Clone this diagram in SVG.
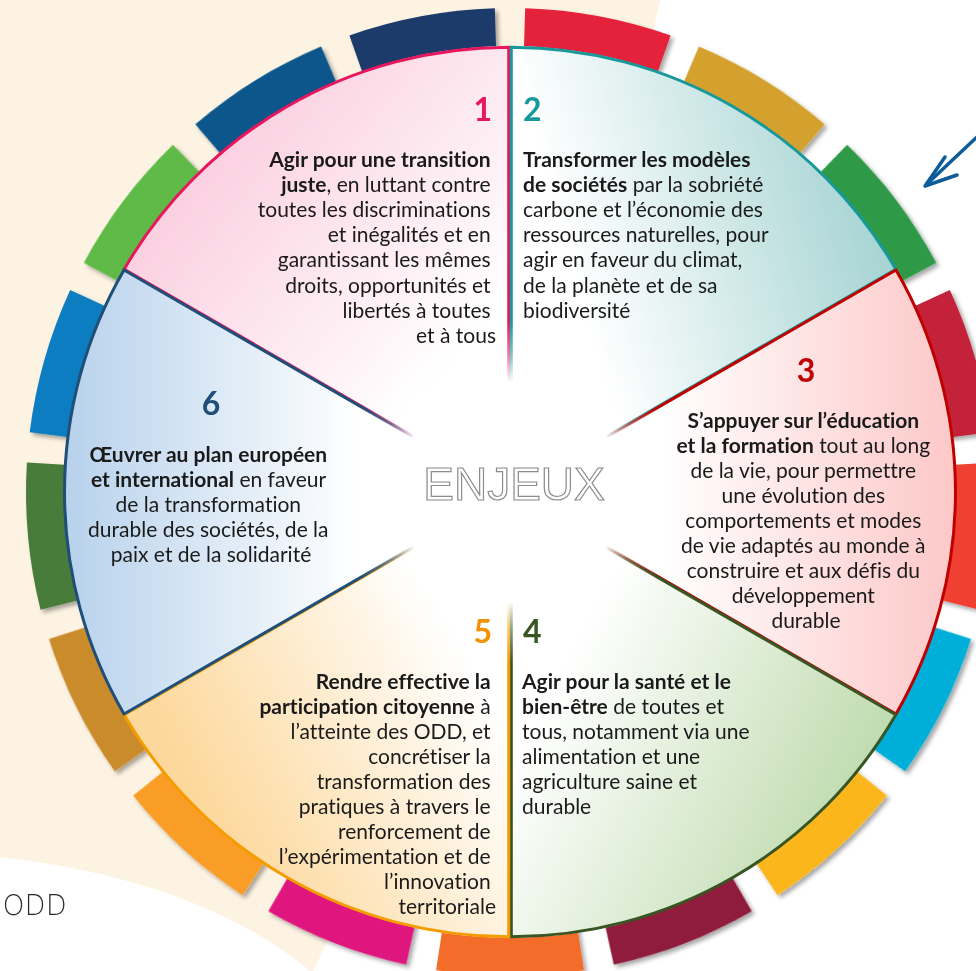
<svg xmlns="http://www.w3.org/2000/svg" width="976" height="971" viewBox="0 0 976 971">
<style>
.t{font-family:Lato,"Open Sans","Liberation Sans",sans-serif;font-size:21px;fill:#1a1a1a;font-variant-ligatures:none;font-feature-settings:"liga" 0,"clig" 0}
.b{font-weight:bold}
.n{font-family:Lato,"Liberation Sans",sans-serif;font-weight:bold;font-size:32px}
.e{text-anchor:end}
.m{text-anchor:middle}
.sl{stroke-width:3;stroke-linejoin:miter}
</style>
<defs>
<filter id="sh" x="-20%" y="-20%" width="140%" height="140%"><feDropShadow dx="3" dy="3" stdDeviation="2" flood-color="#000" flood-opacity="0.35"/></filter>
<path id="seg" d="M436.05,13.68 A484 484 0 0 1 583.95,13.68 L576.92,59.14 A438 438 0 0 0 443.08,59.14 Z"/>
<radialGradient id="rg" gradientUnits="userSpaceOnUse" cx="510" cy="492" r="170">
<stop offset="0" stop-color="#000" stop-opacity="1"/>
<stop offset="0.64" stop-color="#000" stop-opacity="1"/>
<stop offset="0.8" stop-color="#000" stop-opacity="0.45"/>
<stop offset="1" stop-color="#000" stop-opacity="0"/>
</radialGradient>
<mask id="fade" maskUnits="userSpaceOnUse" x="0" y="0" width="976" height="971">
<rect width="976" height="971" fill="#fff"/>
<circle cx="510" cy="492" r="170" fill="url(#rg)"/>
</mask>
<linearGradient id="g1" gradientUnits="userSpaceOnUse" x1="200" y1="170" x2="450" y2="370"><stop offset="0" stop-color="#fbd0e0"/><stop offset="1" stop-color="#fff"/></linearGradient>
<linearGradient id="g2" gradientUnits="userSpaceOnUse" x1="880" y1="260" x2="590" y2="340"><stop offset="0" stop-color="#a8d5d4"/><stop offset="1" stop-color="#fff"/></linearGradient>
<linearGradient id="g3" gradientUnits="userSpaceOnUse" x1="950" y1="0" x2="660" y2="0"><stop offset="0" stop-color="#fdc8c8"/><stop offset="1" stop-color="#fff"/></linearGradient>
<linearGradient id="g4" gradientUnits="userSpaceOnUse" x1="880" y1="730" x2="600" y2="590"><stop offset="0" stop-color="#c1dcb1"/><stop offset="1" stop-color="#fff"/></linearGradient>
<linearGradient id="g5" gradientUnits="userSpaceOnUse" x1="170" y1="740" x2="440" y2="600"><stop offset="0" stop-color="#fdd89c"/><stop offset="1" stop-color="#fff"/></linearGradient>
<linearGradient id="g6" gradientUnits="userSpaceOnUse" x1="70" y1="0" x2="360" y2="0"><stop offset="0" stop-color="#b8d2ec"/><stop offset="1" stop-color="#fff"/></linearGradient>
</defs>

<rect width="976" height="971" fill="#fff"/>
<path d="M0,0 H660 C600,300 450,700 313,971 L310,971 Q200,880 0,857 Z" fill="#fdf3e3"/>

<g id="odd-ring" filter="url(#sh)">
<use href="#seg" fill="#e5243b" transform="rotate(10.588 510 492)"/>
<use href="#seg" fill="#d4a12e" transform="rotate(31.765 510 492)"/>
<use href="#seg" fill="#2d9a47" transform="rotate(52.941 510 492)"/>
<use href="#seg" fill="#c4203a" transform="rotate(74.118 510 492)"/>
<use href="#seg" fill="#ef4130" transform="rotate(95.294 510 492)"/>
<use href="#seg" fill="#02afd9" transform="rotate(116.471 510 492)"/>
<use href="#seg" fill="#fbb61a" transform="rotate(137.647 510 492)"/>
<use href="#seg" fill="#8f1a3c" transform="rotate(158.824 510 492)"/>
<use href="#seg" fill="#f36c2b" transform="rotate(180 510 492)"/>
<use href="#seg" fill="#e0197f" transform="rotate(201.176 510 492)"/>
<use href="#seg" fill="#f99d27" transform="rotate(222.353 510 492)"/>
<use href="#seg" fill="#ca8b2b" transform="rotate(243.529 510 492)"/>
<use href="#seg" fill="#467c3b" transform="rotate(264.706 510 492)"/>
<use href="#seg" fill="#0c7dc1" transform="rotate(285.882 510 492)"/>
<use href="#seg" fill="#5fba47" transform="rotate(307.059 510 492)"/>
<use href="#seg" fill="#07568c" transform="rotate(328.235 510 492)"/>
<use href="#seg" fill="#1b3a6b" transform="rotate(349.412 510 492)"/>
</g>

<circle cx="510" cy="492" r="446" fill="#fff"/>

<g id="enjeu-1">
<path class="sl" transform="translate(-1.3,-0.75)" mask="url(#fade)" d="M510,492 L125.5,270 A444 444 0 0 1 510,48 Z" fill="url(#g1)" stroke="#e8175d"/>
<text class="n e" x="492" y="121" fill="#e8175d">1</text>
<text class="t e">
<tspan x="496" y="167" class="b">Agir pour une transition</tspan>
<tspan x="496" y="192"><tspan class="b">juste</tspan>, en luttant contre</tspan>
<tspan x="496" y="217">toutes les discriminations</tspan>
<tspan x="496" y="242">et inégalités et en</tspan>
<tspan x="496" y="267">garantissant les mêmes</tspan>
<tspan x="496" y="293">droits, opportunités et</tspan>
<tspan x="496" y="318">libertés à toutes</tspan>
<tspan x="496" y="343">et à tous</tspan>
</text>
</g>

<g id="enjeu-2">
<path class="sl" transform="translate(1.3,-0.75)" mask="url(#fade)" d="M510,492 L510,48 A444 444 0 0 1 894.5,270 Z" fill="url(#g2)" stroke="#17999b"/>
<text class="n" x="523" y="121" fill="#17999b">2</text>
<text class="t">
<tspan x="523" y="167" class="b">Transformer les modèles</tspan>
<tspan x="523" y="192"><tspan class="b">de sociétés</tspan> par la sobriété</tspan>
<tspan x="523" y="217">carbone et l’économie des</tspan>
<tspan x="523" y="242">ressources naturelles, pour</tspan>
<tspan x="523" y="267">agir en faveur du climat,</tspan>
<tspan x="523" y="293">de la planète et de sa</tspan>
<tspan x="523" y="318">biodiversité</tspan>
</text>
</g>

<g id="enjeu-3">
<path class="sl" transform="translate(1.5,0)" mask="url(#fade)" d="M510,492 L894.5,270 A444 444 0 0 1 894.5,714 Z" fill="url(#g3)" stroke="#c00000"/>
<text class="n m" x="806" y="382" fill="#c00000">3</text>
<text class="t m">
<tspan x="806" y="428" class="b">S’appuyer sur l’éducation</tspan>
<tspan x="806" y="453"><tspan class="b">et la formation</tspan> tout au long</tspan>
<tspan x="806" y="478">de la vie, pour permettre</tspan>
<tspan x="806" y="503">une évolution des</tspan>
<tspan x="806" y="528">comportements et modes</tspan>
<tspan x="806" y="553">de vie adaptés au monde à</tspan>
<tspan x="806" y="578">construire et aux défis du</tspan>
<tspan x="806" y="603">développement</tspan>
<tspan x="806" y="628">durable</tspan>
</text>
</g>

<g id="enjeu-4">
<path class="sl" transform="translate(1.3,0.75)" mask="url(#fade)" d="M510,492 L894.5,714 A444 444 0 0 1 510,936 Z" fill="url(#g4)" stroke="#375623"/>
<text class="n" x="523" y="643" fill="#375623">4</text>
<text class="t">
<tspan x="522" y="689" class="b">Agir pour la santé et le</tspan>
<tspan x="522" y="714"><tspan class="b">bien-être</tspan> de toutes et</tspan>
<tspan x="522" y="739">tous, notamment via une</tspan>
<tspan x="522" y="764">alimentation et une</tspan>
<tspan x="522" y="789">agriculture saine et</tspan>
<tspan x="522" y="814">durable</tspan>
</text>
</g>

<g id="enjeu-5">
<path class="sl" transform="translate(-1.3,0.75)" mask="url(#fade)" d="M510,492 L510,936 A444 444 0 0 1 125.5,714 Z" fill="url(#g5)" stroke="#f59c00"/>
<text class="n e" x="492" y="643" fill="#f39200">5</text>
<text class="t e">
<tspan x="496" y="689" class="b">Rendre effective la</tspan>
<tspan x="496" y="714"><tspan class="b">participation citoyenne</tspan> à</tspan>
<tspan x="496" y="739">l’atteinte des ODD, et</tspan>
<tspan x="496" y="764">concrétiser la</tspan>
<tspan x="496" y="789">transformation des</tspan>
<tspan x="496" y="814">pratiques à travers le</tspan>
<tspan x="496" y="839">renforcement de</tspan>
<tspan x="496" y="864">l’expérimentation et de</tspan>
<tspan x="496" y="889">l’innovation</tspan>
<tspan x="496" y="914">territoriale</tspan>
</text>
</g>

<g id="enjeu-6">
<path class="sl" transform="translate(-1.5,0)" mask="url(#fade)" d="M510,492 L125.5,714 A444 444 0 0 1 125.5,270 Z" fill="url(#g6)" stroke="#1f4e79"/>
<text class="n m" x="211" y="415" fill="#1f4e79">6</text>
<text class="t m">
<tspan x="211" y="462" class="b">Œuvrer au plan européen</tspan>
<tspan x="211" y="487"><tspan class="b">et international</tspan> en faveur</tspan>
<tspan x="211" y="512">de la transformation</tspan>
<tspan x="211" y="537">durable des sociétés, de la</tspan>
<tspan x="211" y="562">paix et de la solidarité</tspan>
</text>
</g>

<g id="enjeux-centre">
<text x="514" y="500" font-family="Liberation Sans, Arial, sans-serif" font-size="46" fill="#fff" stroke="#8c8c8c" stroke-width="1.2" text-anchor="middle">ENJEUX</text>
</g>

<g id="odd-label">
<text x="3" y="915" font-family="Inter, Liberation Sans, sans-serif" font-weight="200" font-size="28" letter-spacing="1" fill="#2a2a2a">ODD</text>
</g>

<g id="connectors" fill="none" stroke="#0b5c98" stroke-width="3.5" stroke-linecap="round" stroke-linejoin="round">
<line x1="978" y1="136" x2="927" y2="184"/>
<polyline points="945,157 925,186 957,175"/>
</g>
</svg>
